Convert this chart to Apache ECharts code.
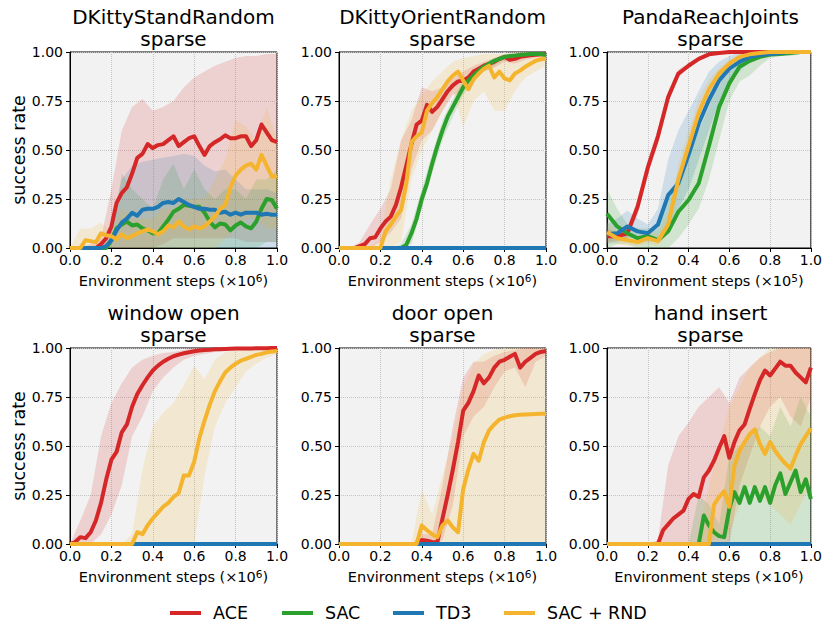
<!DOCTYPE html>
<html><head><meta charset="utf-8">
<script src="https://cdn.jsdelivr.net/npm/echarts@6/dist/echarts.min.js"></script>
<style>html,body{margin:0;padding:0;background:#fff}#c{width:825px;height:628px}</style>
</head><body><div id="c"></div>
<script>
// ---------- data ----------
const methods = ['ACE', 'SAC', 'TD3', 'SAC + RND'];
const colors = ['#d62728', '#2ca02c', '#1f77b4', '#f5b42d'];
const titles = ['DKittyStandRandom', 'DKittyOrientRandom', 'PandaReachJoints', 'window open', 'door open', 'hand insert'];
const subtitle = 'sparse';
const xNameBase = 'Environment steps (×10';
const xExponents = ['6', '6', '5', '6', '6', '6'];
const yName = 'success rate';
const xTicks = [0, 0.2, 0.4, 0.6, 0.8, 1.0];
const yTicks = [0, 0.25, 0.5, 0.75, 1.0];

const steps40 = [0,0.025,0.05,0.075,0.1,0.125,0.15,0.175,0.2,0.225,0.25,0.275,0.3,0.325,0.35,0.375,0.4,0.425,0.45,0.475,0.5,0.525,0.55,0.575,0.6,0.625,0.65,0.675,0.7,0.725,0.75,0.775,0.8,0.825,0.85,0.875,0.9,0.925,0.95,0.975,1];
const steps20 = [0,0.05,0.1,0.15,0.2,0.25,0.3,0.35,0.4,0.45,0.5,0.55,0.6,0.65,0.7,0.75,0.8,0.85,0.9,0.95,1];

// DKittyStandRandom
const standAce = [0,0,0,0,0,0,0.02,0.05,0.11,0.23,0.28,0.31,0.38,0.46,0.48,0.53,0.51,0.525,0.53,0.55,0.57,0.52,0.54,0.56,0.57,0.52,0.475,0.52,0.54,0.555,0.575,0.56,0.56,0.57,0.57,0.52,0.55,0.63,0.59,0.55,0.54];
const standSac = [0,0,0,0,0,0,0,0,0.04,0.1,0.12,0.135,0.115,0.12,0.1,0.09,0.075,0.075,0.11,0.145,0.185,0.2,0.22,0.215,0.21,0.21,0.18,0.135,0.105,0.125,0.12,0.09,0.115,0.13,0.11,0.1,0.135,0.2,0.25,0.245,0.2];
const standTd3 = [0,0,0,0,0,0,0,0.01,0.04,0.09,0.13,0.15,0.18,0.165,0.195,0.2,0.2,0.21,0.23,0.235,0.23,0.25,0.235,0.22,0.21,0.2,0.2,0.195,0.195,0.18,0.185,0.17,0.18,0.17,0.18,0.18,0.18,0.17,0.175,0.17,0.17];
const standRnd = [0,0,0,0.04,0.035,0.03,0.075,0.065,0.06,0.045,0.07,0.05,0.06,0.075,0.085,0.095,0.085,0.07,0.085,0.115,0.105,0.135,0.11,0.095,0.11,0.1,0.11,0.135,0.16,0.2,0.22,0.31,0.37,0.4,0.42,0.43,0.4,0.475,0.42,0.365,0.365];
const standAceLo = [0,0,0,0,0,0,0,0,0,0.02,0.05,0.05,0.05,0.05,0.05,0.05,0.05,0.03,0.03,0.03,0.03];
const standAceHi = [0,0,0.02,0.05,0.3,0.6,0.72,0.76,0.7,0.72,0.75,0.82,0.87,0.9,0.93,0.95,0.97,0.98,0.98,0.99,0.99];
const standSacLo = [0,0,0,0,0,0,0,0,0,0,0,0,0,0,0,0,0,0,0,0.03,0.03];
const standSacHi = [0,0,0,0,0.05,0.38,0.3,0.25,0.2,0.35,0.43,0.3,0.4,0.3,0.25,0.3,0.3,0.25,0.35,0.35,0.4];
const standTd3Lo = [0,0,0,0,0,0,0,0,0,0,0,0,0,0,0,0,0,0,0,0,0];
const standTd3Hi = [0,0,0,0.02,0.1,0.35,0.42,0.44,0.45,0.46,0.47,0.48,0.47,0.42,0.39,0.4,0.35,0.3,0.3,0.3,0.28];
const standRndLo = [0,0,0,0,0,0,0,0,0,0,0,0,0,0,0,0.05,0.1,0.15,0.15,0.1,0.1];
const standRndHi = [0,0.1,0.1,0.13,0.08,0.2,0.15,0.15,0.15,0.2,0.2,0.25,0.25,0.25,0.35,0.45,0.65,0.62,0.55,0.72,0.55];

// DKittyOrientRandom
const orientAce = [0,0,0,0,0.01,0.02,0.05,0.055,0.1,0.135,0.16,0.22,0.31,0.42,0.53,0.63,0.65,0.73,0.695,0.72,0.76,0.8,0.83,0.85,0.855,0.87,0.9,0.915,0.93,0.94,0.95,0.965,0.975,0.96,0.965,0.975,0.98,0.983,0.986,0.988,0.99];
const orientSac = [0,0,0,0,0,0,0,0,0,0,0,0,0,0.015,0.075,0.15,0.25,0.33,0.43,0.52,0.6,0.67,0.72,0.77,0.82,0.855,0.88,0.905,0.925,0.94,0.955,0.965,0.975,0.98,0.982,0.985,0.987,0.99,0.99,0.99,0.985];
const orientTd3 = [0,0,0,0,0,0,0,0,0,0,0,0,0,0,0,0,0,0,0,0,0,0,0,0,0,0,0,0,0,0,0,0,0,0,0,0,0,0,0,0,0];
const orientRnd = [0,0,0,0,0,0,0,0,0,0.085,0.12,0.16,0.195,0.33,0.54,0.57,0.59,0.7,0.74,0.77,0.81,0.85,0.88,0.9,0.855,0.81,0.86,0.89,0.915,0.93,0.87,0.9,0.865,0.855,0.89,0.905,0.925,0.94,0.955,0.963,0.966];
const orientAceLo = [0,0,0,0,0.03,0.08,0.15,0.4,0.55,0.6,0.7,0.78,0.8,0.85,0.9,0.92,0.95,0.94,0.96,0.97,0.98];
const orientAceHi = [0,0,0.03,0.12,0.2,0.3,0.55,0.65,0.82,0.8,0.82,0.87,0.9,0.93,0.95,0.97,0.99,0.99,0.99,1,1];
const orientSacLo = [0,0,0,0,0,0,0,0.02,0.2,0.38,0.55,0.67,0.78,0.85,0.9,0.93,0.96,0.97,0.98,0.98,0.97];
const orientSacHi = [0,0,0,0,0,0,0.02,0.12,0.3,0.48,0.65,0.76,0.85,0.9,0.94,0.97,0.98,0.99,1,1,1];
const orientRndLo = [0,0,0,0,0,0,0.03,0.35,0.5,0.6,0.7,0.8,0.62,0.75,0.8,0.7,0.7,0.8,0.87,0.9,0.93];
const orientRndHi = [0,0,0,0,0.05,0.35,0.55,0.7,0.78,0.85,0.9,0.95,0.97,0.98,0.99,0.99,0.99,1,1,1,1];

// PandaReachJoints
const pandaAce = [0.06,0.06,0.075,0.21,0.41,0.57,0.77,0.89,0.93,0.965,0.988,0.995,1,1,1,1,1,1,1,1,1];
const pandaSac = [0.175,0.11,0.075,0.05,0.06,0.04,0.085,0.185,0.245,0.33,0.52,0.72,0.84,0.925,0.955,0.975,0.987,0.99,0.995,1,1];
const pandaTd3 = [0.07,0.075,0.11,0.085,0.075,0.12,0.27,0.33,0.475,0.635,0.755,0.855,0.915,0.95,0.975,0.985,0.99,0.995,1,1,1];
const pandaRnd = [0.08,0.05,0.04,0.03,0.05,0.035,0.12,0.35,0.52,0.69,0.81,0.89,0.94,0.975,0.988,0.995,1,1,1,1,1];
const pandaAceLo = [0.03,0.04,0.05,0.17,0.37,0.53,0.74,0.87,0.92,0.955,0.98,0.99,1,1,1,1,1,1,1,1,1];
const pandaAceHi = [0.1,0.08,0.1,0.25,0.45,0.61,0.8,0.91,0.945,0.975,0.995,1,1,1,1,1,1,1,1,1,1];
const pandaSacLo = [0,0.02,0.02,0,0,0,0,0.05,0.12,0.2,0.35,0.55,0.75,0.85,0.88,0.93,0.97,0.98,0.98,0.99,1];
const pandaSacHi = [0.3,0.2,0.12,0.1,0.1,0.1,0.25,0.32,0.45,0.6,0.72,0.85,0.92,0.97,0.99,1,1,1,1,1,1];
const pandaTd3Lo = [0.02,0.03,0.05,0.05,0.03,0.04,0.1,0.2,0.3,0.45,0.6,0.75,0.85,0.9,0.95,0.97,0.99,1,1,1,1];
const pandaTd3Hi = [0.12,0.15,0.19,0.15,0.12,0.2,0.45,0.6,0.7,0.8,0.9,0.95,0.98,1,1,1,1,1,1,1,1];
const pandaRndLo = [0.03,0.02,0.01,0.01,0.02,0.01,0.07,0.28,0.45,0.62,0.76,0.86,0.92,0.96,0.98,0.99,1,1,1,1,1];
const pandaRndHi = [0.13,0.09,0.07,0.06,0.09,0.07,0.18,0.43,0.6,0.76,0.86,0.92,0.96,0.99,1,1,1,1,1,1,1];

// window open
const windowAce = [0,0.01,0.035,0.03,0.06,0.12,0.21,0.33,0.43,0.47,0.57,0.61,0.7,0.765,0.81,0.85,0.885,0.91,0.93,0.945,0.958,0.966,0.973,0.978,0.983,0.987,0.99,0.991,0.993,0.994,0.995,0.996,0.997,0.997,0.998,0.998,0.999,0.999,0.999,1,1];
const windowSac = [0,0,0,0,0,0,0,0,0,0,0,0,0,0,0,0,0,0,0,0,0,0,0,0,0,0,0,0,0,0,0,0,0,0,0,0,0,0,0,0,0];
const windowTd3 = [0,0,0,0,0,0,0,0,0,0,0,0,0,0,0,0,0,0,0,0,0,0,0,0,0,0,0,0,0,0,0,0,0,0,0,0,0,0,0,0,0];
const windowRnd = [0,0,0,0,0,0,0,0,0,0,0,0,0,0.06,0.05,0.095,0.13,0.16,0.19,0.21,0.24,0.26,0.35,0.35,0.42,0.54,0.63,0.71,0.78,0.83,0.875,0.9,0.92,0.935,0.945,0.955,0.965,0.97,0.978,0.982,0.985];
const windowAceLo = [0,0,0,0.05,0.15,0.3,0.55,0.65,0.78,0.85,0.9,0.94,0.96,0.97,0.98,0.99,0.99,0.995,1,1,1];
const windowAceHi = [0,0.12,0.25,0.55,0.72,0.82,0.9,0.94,0.96,0.975,0.98,0.99,1,1,1,1,1,1,1,1,1];
const windowRndLo = [0,0,0,0,0,0,0,0,0,0,0,0,0,0.35,0.6,0.72,0.8,0.88,0.92,0.95,0.97];
const windowRndHi = [0,0,0,0,0,0,0.05,0.38,0.6,0.67,0.72,0.81,0.91,0.84,0.94,0.98,0.99,1,1,1,1];

// door open
const doorAce = [0,0,0,0,0,0,0,0,0,0,0,0,0,0,0,0,0.02,0.017,0.01,0.008,0.13,0.25,0.38,0.52,0.68,0.72,0.78,0.86,0.82,0.85,0.9,0.93,0.94,0.955,0.97,0.9,0.93,0.95,0.97,0.98,0.985];
const doorSac = [0,0,0,0,0,0,0,0,0,0,0,0,0,0,0,0,0,0,0,0,0,0,0,0,0,0,0,0,0,0,0,0,0,0,0,0,0,0,0,0,0];
const doorTd3 = [0,0,0,0,0,0,0,0,0,0,0,0,0,0,0,0,0,0,0,0,0,0,0,0,0,0,0,0,0,0,0,0,0,0,0,0,0,0,0,0,0];
const doorRnd = [0,0,0,0,0,0,0,0,0,0,0,0,0,0,0,0,0.095,0.07,0.05,0.035,0.095,0.12,0.085,0.06,0.28,0.38,0.46,0.425,0.52,0.58,0.61,0.635,0.645,0.652,0.657,0.66,0.661,0.662,0.663,0.664,0.665];
const doorAceLo = [0,0,0,0,0,0,0,0,0,0,0.02,0.2,0.55,0.65,0.7,0.8,0.88,0.9,0.8,0.93,0.96];
const doorAceHi = [0,0,0,0,0,0,0,0,0.05,0.05,0.3,0.6,0.85,0.93,0.93,0.96,0.98,0.99,1,1,1];
const doorRndLo = [0,0,0,0,0,0,0,0,0,0,0,0,0,0,0,0,0,0,0,0,0];
const doorRndHi = [0,0,0,0,0,0,0,0,0.28,0.15,0.35,0.55,0.8,0.92,0.97,0.99,1,1,1,1,1];

// hand insert
const handAce = [0,0,0,0,0,0,0,0,0,0,0,0.07,0.1,0.13,0.15,0.17,0.23,0.255,0.24,0.34,0.375,0.425,0.49,0.55,0.44,0.52,0.58,0.61,0.69,0.765,0.835,0.885,0.86,0.895,0.93,0.91,0.91,0.875,0.85,0.825,0.9];
const handSac = [0,0,0,0,0,0,0,0,0,0,0,0,0,0,0,0,0,0,0,0.145,0.095,0.06,0.04,0.035,0.18,0.265,0.21,0.29,0.21,0.29,0.22,0.29,0.21,0.3,0.36,0.255,0.315,0.375,0.265,0.33,0.23];
const handTd3 = [0,0,0,0,0,0,0,0,0,0,0,0,0,0,0,0,0,0,0,0,0,0,0,0,0,0,0,0,0,0,0,0,0,0,0,0,0,0,0,0,0];
const handRnd = [0,0,0,0,0,0,0,0,0,0,0,0,0,0,0,0,0,0,0,0,0,0.2,0.24,0.27,0.19,0.4,0.475,0.52,0.56,0.585,0.51,0.46,0.52,0.475,0.44,0.41,0.385,0.45,0.51,0.55,0.59];
const handAceLo = [0,0,0,0,0,0,0,0,0,0,0,0,0,0.3,0.45,0.6,0.7,0.75,0.65,0.6,0.75];
const handAceHi = [0,0,0,0,0,0.02,0.4,0.55,0.62,0.7,0.75,0.8,0.72,0.85,0.9,0.95,0.98,1,1,1,1];
const handSacLo = [0,0,0,0,0,0,0,0,0,0,0,0,0,0,0,0,0,0,0,0,0];
const handSacHi = [0,0,0,0,0,0,0,0,0,0.25,0.2,0.1,0.45,0.5,0.55,0.6,0.55,0.7,0.6,0.75,0.65];
const handRndLo = [0,0,0,0,0,0,0,0,0,0,0,0.05,0.05,0.2,0.3,0.25,0.2,0.15,0.1,0.2,0.3];
const handRndHi = [0,0,0,0,0,0,0,0,0,0,0.3,0.5,0.7,0.8,0.9,0.95,1,1,1,1,1];

const panels = [
  {steps: steps40, lines: [standAce, standSac, standTd3, standRnd],
   bands: [[standAceLo, standAceHi], [standSacLo, standSacHi], [standTd3Lo, standTd3Hi], [standRndLo, standRndHi]]},
  {steps: steps40, lines: [orientAce, orientSac, orientTd3, orientRnd],
   bands: [[orientAceLo, orientAceHi], [orientSacLo, orientSacHi], null, [orientRndLo, orientRndHi]]},
  {steps: steps20, lines: [pandaAce, pandaSac, pandaTd3, pandaRnd],
   bands: [[pandaAceLo, pandaAceHi], [pandaSacLo, pandaSacHi], [pandaTd3Lo, pandaTd3Hi], [pandaRndLo, pandaRndHi]]},
  {steps: steps40, lines: [windowAce, windowSac, windowTd3, windowRnd],
   bands: [[windowAceLo, windowAceHi], null, null, [windowRndLo, windowRndHi]]},
  {steps: steps40, lines: [doorAce, doorSac, doorTd3, doorRnd],
   bands: [[doorAceLo, doorAceHi], null, null, [doorRndLo, doorRndHi]]},
  {steps: steps40, lines: [handAce, handSac, handTd3, handRnd],
   bands: [[handAceLo, handAceHi], [handSacLo, handSacHi], null, [handRndLo, handRndHi]]}
];

// ---------- layout ----------
const FONT = 'DejaVu Sans';
const gridLeft = [70, 339, 607];
const gridTop = [52, 348];
const W = 207, H = 196;
const legendLeft = [170, 282, 393, 504];

const pair = (xs, ys) => xs.map((x, i) => [x, ys[i]]);
const grids = [], xAxes = [], yAxes = [], series = [], graphics = [];

panels.forEach((p, pi) => {
  const gl = gridLeft[pi % 3], gt = gridTop[Math.floor(pi / 3)];
  grids.push({left: gl, top: gt, width: W, height: H, show: true,
    backgroundColor: '#f2f2f2', borderColor: '#000', borderWidth: 1});
  xAxes.push({gridIndex: pi, type: 'value', min: xTicks[0], max: xTicks[xTicks.length - 1], interval: 0.2,
    name: xNameBase + '{s|' + xExponents[pi] + '}' + ')', nameLocation: 'middle', nameGap: 24,
    nameTextStyle: {fontSize: 14.5, color: '#000', fontFamily: FONT, lineHeight: 18,
      rich: {s: {fontSize: 10.5, color: '#000', fontFamily: FONT, verticalAlign: 'top', lineHeight: 10}}},
    axisLine: {show: true, onZero: false, lineStyle: {color: '#000', width: 1}},
    axisTick: {show: true, length: 4, lineStyle: {color: '#000'}},
    axisLabel: {fontSize: 14, color: '#000', margin: 5, fontFamily: FONT, formatter: v => v.toFixed(1)},
    splitLine: {show: true, lineStyle: {color: '#c4c4c4', type: 'dotted', width: 1}}});
  yAxes.push({gridIndex: pi, type: 'value', min: yTicks[0], max: yTicks[yTicks.length - 1], interval: 0.25,
    name: (pi % 3 === 0) ? yName : '', nameLocation: 'middle', nameGap: 39,
    nameTextStyle: {fontSize: 17.5, color: '#000', fontFamily: FONT},
    axisLine: {show: true, lineStyle: {color: '#000', width: 1}},
    axisTick: {show: true, length: 4, lineStyle: {color: '#000'}},
    axisLabel: {fontSize: 14, color: '#000', margin: 7, fontFamily: FONT, formatter: v => v.toFixed(2)},
    splitLine: {show: true, lineStyle: {color: '#c4c4c4', type: 'dotted', width: 1}}});
  graphics.push({type: 'text', x: gl + W / 2, y: gt - 46, z: 10,
    style: {text: titles[pi] + '\n' + subtitle, fill: '#000', fontSize: 20, fontFamily: FONT,
      lineHeight: 22, align: 'center', verticalAlign: 'top'}});

  // shaded bands: polygon between lower and upper bound, drawn through the axis scales
  p.bands.forEach((b, k) => {
    if (!b) return;
    const lo = b[0], hi = b[1];
    series.push({type: 'custom', name: 'band', xAxisIndex: pi, yAxisIndex: pi, silent: true, z: 1,
      data: steps20.map((x, i) => [x, lo[i], hi[i]]),
      encode: {x: 0, y: [1, 2]},
      renderItem: (params, api) => {
        if (params.dataIndex !== 0) return null;
        const upper = steps20.map((x, i) => api.coord([x, hi[i]]));
        const lower = steps20.map((x, i) => api.coord([x, lo[i]])).reverse();
        return {type: 'polygon', shape: {points: upper.concat(lower)},
          style: {fill: colors[k], opacity: 0.17}};
      }});
  });
  p.lines.forEach((ys, k) => {
    series.push({type: 'line', name: methods[k], xAxisIndex: pi, yAxisIndex: pi,
      data: pair(p.steps, ys), symbol: 'none', color: colors[k], z: 2 + k,
      lineStyle: {width: 4, color: colors[k], join: 'round', cap: 'butt'}});
  });
});

const legends = methods.map((m, k) => ({
  data: [m], left: legendLeft[k], top: 604, icon: 'rect', itemWidth: 31, itemHeight: 4,
  selectedMode: false, padding: 0,
  textStyle: {fontSize: 17.5, color: '#000', fontFamily: FONT, padding: [0, 0, 0, 7]}
}));

const chart = echarts.init(document.getElementById('c'), null, {renderer: 'svg'});
chart.setOption({
  animation: false,
  backgroundColor: '#fff',
  textStyle: {fontFamily: FONT},
  grid: grids, xAxis: xAxes, yAxis: yAxes, series: series,
  legend: legends, graphic: graphics
});
</script></body></html>
